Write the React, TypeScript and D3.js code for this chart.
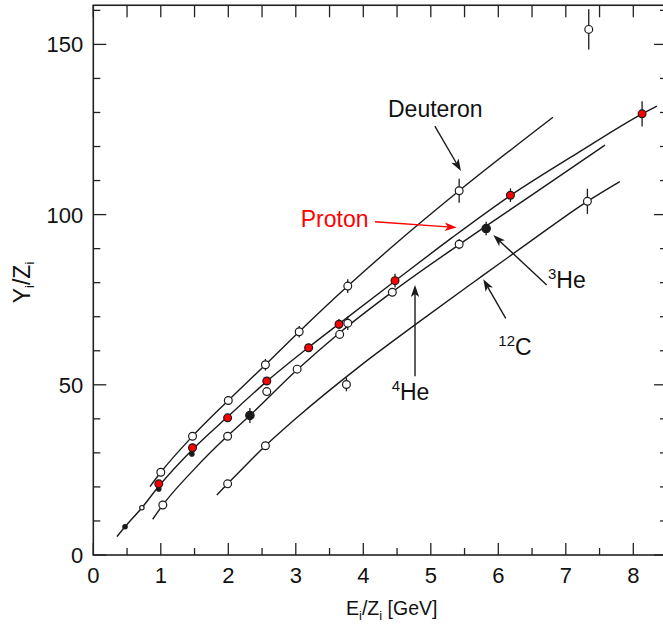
import React from 'react';
import * as d3 from 'd3';

// ---------- data ----------
// [E/Z (GeV), Y/Z, error]
const deuteronData: number[][] = [
  [1.0, 24.3, 0], [1.47, 34.9, 0], [2.0, 45.4, 0], [2.55, 55.9, 1.7],
  [3.05, 65.6, 1.7], [3.77, 79.0, 2], [5.42, 107.0, 3.5], [7.34, 154.4, 5.9],
];
const protonData: number[][] = [
  [0.97, 20.9, 0], [1.47, 31.5, 0], [1.99, 40.3, 0], [2.57, 51.1, 0],
  [3.19, 60.9, 0], [3.64, 67.8, 1.5], [4.47, 80.6, 2], [6.18, 105.7, 2], [8.13, 129.6, 3.7],
];
const helium4Data: number[][] = [
  [1.03, 14.7, 0], [1.99, 34.9, 0], [2.57, 48.0, 0], [3.02, 54.6, 0],
  [3.65, 64.8, 0], [3.77, 68.1, 2], [4.43, 77.2, 0], [5.42, 91.3, 1.5],
];
const helium3Data: number[][] = [[2.32, 41.0, 2.2], [5.82, 95.9, 2]];
const carbon12Data: number[][] = [[1.99, 20.9, 0], [2.55, 32.1, 0], [3.75, 50.1, 2], [7.32, 103.9, 3.7]];
const lowEnergyFilled: number[][] = [[0.47, 8.3], [0.97, 19.4], [1.46, 29.7]];
const lowEnergyOpen: number[][] = [[0.72, 13.9]];

// fitted curves
const deuteronFit: number[][] = [
  [0.84, 20.1], [1.0, 24.3], [1.47, 34.9], [2.0, 45.4], [2.55, 55.9], [3.05, 65.6],
  [3.77, 79.0], [4.5, 91.8], [5.42, 107.0], [6.81, 128.6],
];
const protonFit: number[][] = [
  [0.35, 5.4], [0.47, 8.3], [0.72, 13.9], [0.97, 20.2], [1.47, 31.0], [1.99, 40.6],
  [2.57, 51.0], [3.19, 61.0], [3.64, 67.9], [4.47, 80.5], [5.3, 93.0], [6.18, 105.6],
  [7.2, 118.4], [8.13, 129.6], [8.35, 131.9],
];
const helium4Fit: number[][] = [
  [0.88, 10.5], [1.03, 14.7], [1.5, 25.3], [1.99, 35.0], [2.32, 41.0], [3.02, 54.4],
  [3.65, 65.3], [4.43, 77.3], [5.42, 91.2], [6.5, 105.8], [7.58, 120.4],
];
const carbon12Fit: number[][] = [
  [1.83, 17.6], [1.99, 20.9], [2.55, 32.1], [3.0, 40.1], [3.95, 55.5], [4.8, 68.1],
  [5.68, 80.8], [6.5, 92.5], [7.32, 103.9], [7.8, 109.7],
];

const xMajorTicks = [0, 1, 2, 3, 4, 5, 6, 7, 8];
const xMinorTicks = [0.5, 1.5, 2.5, 3.5, 4.5, 5.5, 6.5, 7.5];
const yMajorTicks = [0, 50, 100, 150];
const yMinorTicks = [10, 20, 30, 40, 60, 70, 80, 90, 110, 120, 130, 140, 160];

// ---------- layout ----------
const W = 663, H = 631;
const X0 = 93.3, XPX = 67.5, Y0 = 555, YPX = 3.404;
const xScale = d3.scaleLinear().domain([0, 8.5]).range([X0, X0 + 8.5 * XPX]);
const yScale = d3.scaleLinear().domain([0, 161.5]).range([Y0, Y0 - 161.5 * YPX]);
const FONT = '"Liberation Sans", Arial, Helvetica, sans-serif';
const INK = '#1a1a1a';
const RED = '#ff0000';

const line = d3.line<number[]>()
  .x(d => xScale(d[0]))
  .y(d => yScale(d[1]))
  .curve(d3.curveMonotoneX);

function Arrow({ from, to, color = INK }: { from: number[]; to: number[]; color?: string }) {
  const x1 = xScale(from[0]), y1 = yScale(from[1]);
  const x2 = xScale(to[0]), y2 = yScale(to[1]);
  const dx = x2 - x1, dy = y2 - y1;
  const len = Math.hypot(dx, dy);
  const ux = dx / len, uy = dy / len;
  const hl = 12, hw = 4.2;
  const bx = x2 - ux * hl, by = y2 - uy * hl;
  const pts = [
    [x2, y2],
    [bx - uy * hw, by + ux * hw],
    [bx + ux * 3, by + uy * 3],
    [bx + uy * hw, by - ux * hw],
  ];
  return (
    <g>
      <line x1={x1} y1={y1} x2={bx + ux * 3} y2={by + uy * 3} stroke={color} strokeWidth={1.4} />
      <polygon points={pts.map(p => p.join(',')).join(' ')} fill={color} />
    </g>
  );
}

function ErrorBars({ data }: { data: number[][] }) {
  return (
    <g>
      {data.filter(d => d[2] > 0).map((d, i) => (
        <line key={i} x1={xScale(d[0])} x2={xScale(d[0])} y1={yScale(d[1] - d[2])} y2={yScale(d[1] + d[2])}
          stroke={INK} strokeWidth={1.3} />
      ))}
    </g>
  );
}

function Points({ data, fill, r, stroke = INK }: { data: number[][]; fill: string; r: number; stroke?: string }) {
  return (
    <g>
      {data.map((d, i) => (
        <circle key={i} cx={xScale(d[0])} cy={yScale(d[1])} r={r} fill={fill} stroke={stroke} strokeWidth={1.2} />
      ))}
    </g>
  );
}

export default function App() {
  const left = xScale(0), right = xScale(8.5), top = yScale(161.5), bottom = yScale(0);
  return (
    <svg width={W} height={H} style={{ position: 'absolute', left: 0, top: 0, background: '#fff' }}
      fontFamily={FONT}>
      {/* frame */}
      <rect x={left} y={top} width={right - left} height={bottom - top} fill="none" stroke="#222" strokeWidth={1.6} />
      {/* bottom & top ticks */}
      {xMajorTicks.map(t => (
        <line key={'bx' + t} x1={xScale(t)} x2={xScale(t)} y1={bottom} y2={bottom - 12} stroke="#222" strokeWidth={1.3} />
      ))}
      {xMinorTicks.map(t => (
        <line key={'bm' + t} x1={xScale(t)} x2={xScale(t)} y1={bottom} y2={bottom - 7} stroke="#222" strokeWidth={1.3} />
      ))}
      {[...xMajorTicks, ...xMinorTicks].map(t => (
        <line key={'tx' + t} x1={xScale(t)} x2={xScale(t)} y1={top} y2={top + 12} stroke="#222" strokeWidth={1.3} />
      ))}
      {/* left & right ticks */}
      {yMajorTicks.map(t => (
        <g key={'ly' + t}>
          <line x1={left} x2={left + 13} y1={yScale(t)} y2={yScale(t)} stroke="#222" strokeWidth={1.3} />
          <line x1={right} x2={right - 13} y1={yScale(t)} y2={yScale(t)} stroke="#222" strokeWidth={1.3} />
        </g>
      ))}
      {yMinorTicks.map(t => (
        <g key={'lm' + t}>
          <line x1={left} x2={left + 7} y1={yScale(t)} y2={yScale(t)} stroke="#222" strokeWidth={1.3} />
          <line x1={right} x2={right - 7} y1={yScale(t)} y2={yScale(t)} stroke="#222" strokeWidth={1.3} />
        </g>
      ))}
      {/* tick labels */}
      {xMajorTicks.map(t => (
        <text key={'xl' + t} x={xScale(t)} y={bottom + 28} fontSize={22} textAnchor="middle" fill="#111">{t}</text>
      ))}
      {yMajorTicks.map(t => (
        <text key={'yl' + t} x={left - 10} y={yScale(t) + 8} fontSize={22} textAnchor="end" fill="#111">{t}</text>
      ))}
      {/* axis titles */}
      <text x={391.7} y={615} fontSize={19.5} textAnchor="middle" fill="#111">
        E<tspan fontSize={13} dy={5}>i</tspan><tspan dy={-5}>/Z</tspan><tspan fontSize={13} dy={5}>i</tspan><tspan dy={-5}>{' [GeV]'}</tspan>
      </text>
      <text transform="translate(30,282.5) rotate(-90)" fontSize={23} textAnchor="middle" fill="#111">
        Y<tspan fontSize={13} dy={4}>i</tspan><tspan dy={-4}>/Z</tspan><tspan fontSize={13} dy={4}>i</tspan>
      </text>

      {/* fitted curves */}
      {[deuteronFit, protonFit, helium4Fit, carbon12Fit].map((c, i) => (
        <path key={'c' + i} d={line(c) || ''} fill="none" stroke={INK} strokeWidth={1.4} />
      ))}

      {/* error bars */}
      <ErrorBars data={deuteronData} />
      <ErrorBars data={protonData} />
      <ErrorBars data={helium4Data} />
      <ErrorBars data={helium3Data} />
      <ErrorBars data={carbon12Data} />

      {/* points */}
      <Points data={lowEnergyFilled} fill={INK} r={2.2} />
      <Points data={lowEnergyOpen} fill="#fff" r={2.2} />
      <Points data={deuteronData} fill="#fff" r={3.9} />
      <Points data={helium4Data} fill="#fff" r={3.9} />
      <Points data={carbon12Data} fill="#fff" r={3.9} />
      <Points data={protonData} fill={RED} r={3.9} />
      <Points data={helium3Data} fill={INK} r={4.2} />

      {/* annotations */}
      <text x={xScale(4.366)} y={yScale(128.7)} fontSize={23} fill="#111">Deuteron</text>
      <Arrow from={[5.06, 126.0]} to={[5.447, 112.8]} />

      <text x={xScale(3.073)} y={yScale(96.4)} fontSize={23} fill={RED}>Proton</text>
      <Arrow from={[4.173, 97.9]} to={[5.384, 96.2]} color={RED} />

      <text x={xScale(6.736)} y={yScale(78.4)} fontSize={23} fill="#111">
        <tspan fontSize={15} dy={-9}>3</tspan><tspan dy={9}>He</tspan>
      </text>
      <Arrow from={[6.717, 79.3]} to={[5.926, 94.0]} />

      <text x={xScale(6.0)} y={yScale(58.75)} fontSize={23} fill="#111">
        <tspan fontSize={15} dy={-9}>12</tspan><tspan dy={9}>C</tspan>
      </text>
      <Arrow from={[6.11, 69.5]} to={[5.778, 81.0]} />

      <text x={xScale(4.42)} y={yScale(45.5)} fontSize={23} fill="#111">
        <tspan fontSize={15} dy={-9}>4</tspan><tspan dy={9}>He</tspan>
      </text>
      <Arrow from={[4.766, 52.5]} to={[4.766, 79.3]} />
    </svg>
  );
}
